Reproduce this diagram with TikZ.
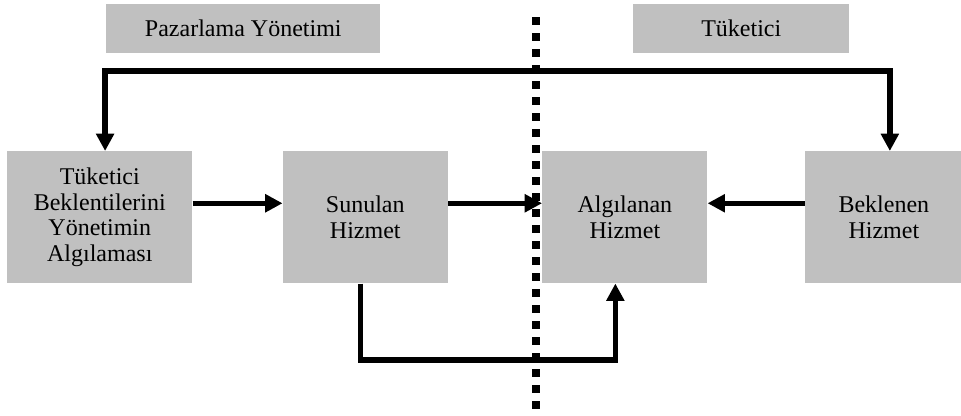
\documentclass[tikz,border=0pt]{standalone}
\usepackage{fontspec}
\setmainfont{Liberation Serif}
\usetikzlibrary{positioning,arrows.meta}
\definecolor{boxgray}{RGB}{192,192,192}

\begin{document}
\begin{tikzpicture}[
  node distance=0cm and 2.4cm,
  box/.style={fill=boxgray,inner sep=0pt,minimum height=99pt,align=center,
    font=\fontsize{18}{19.3}\selectfont},
  head/.style={fill=boxgray,inner sep=0pt,minimum height=36.75pt,anchor=north west,
    font=\fontsize{18}{20}\selectfont},
  arr/.style={line width=4pt,-{Triangle[length=13pt,width=13pt]}},
  biarr/.style={line width=4pt,{Triangle[length=13pt,width=13pt]}-{Triangle[length=13pt,width=13pt]}},
  divider/.style={line width=6pt,dash pattern=on 6pt off 6pt}
]
\useasboundingbox (0,0) rectangle (720.75pt,-311.25pt);

% headers
\node[head,minimum width=205.5pt] (pazar) at (79.5pt,-3pt) {Pazarlama Yönetimi};
\node[head,minimum width=162pt] (tuket) at (474.75pt,-3pt) {Tüketici};

% boxes
\node[box,text width=138.75pt,anchor=north west] (bek) at (5.25pt,-113.25pt)
  {Tüketici\\Beklentilerini\\Yönetimin\\Algılaması};
\node[box,text width=123.75pt,right=67.5pt of bek] (sun) {Sunulan\\Hizmet};
\node[box,text width=123.75pt,right=70.5pt of sun] (alg) {Algılanan\\Hizmet};
\node[box,text width=118.5pt,right=72.75pt of alg] (bkl) {Beklenen\\Hizmet};

\coordinate (dtop) at (402pt,-12.75pt);
\coordinate (dbot) at (402pt,-306.75pt);
\coordinate (ust) at (0,-53.25pt);
\coordinate (alt) at (0,-270pt);

\draw[divider] (dtop) -- (dbot);

\draw[arr] ([yshift=10.5pt]bek.east) -- ([yshift=10.5pt]sun.west);
\draw[arr] ([yshift=10.5pt]sun.east) -- ([yshift=10.5pt]alg.west);
\draw[arr] ([yshift=10.5pt]bkl.west) -- ([yshift=10.5pt]alg.east);

\draw[biarr] ([xshift=4pt]bek.north) -- ([xshift=4pt]bek.north |- ust)
  -| ([xshift=4.5pt]bkl.north);
\draw[arr] ([xshift=-3.4pt]sun.south) -- ([xshift=-3.4pt]sun.south |- alt)
  -| ([xshift=-7.1pt]alg.south);

\end{tikzpicture}
\end{document}
